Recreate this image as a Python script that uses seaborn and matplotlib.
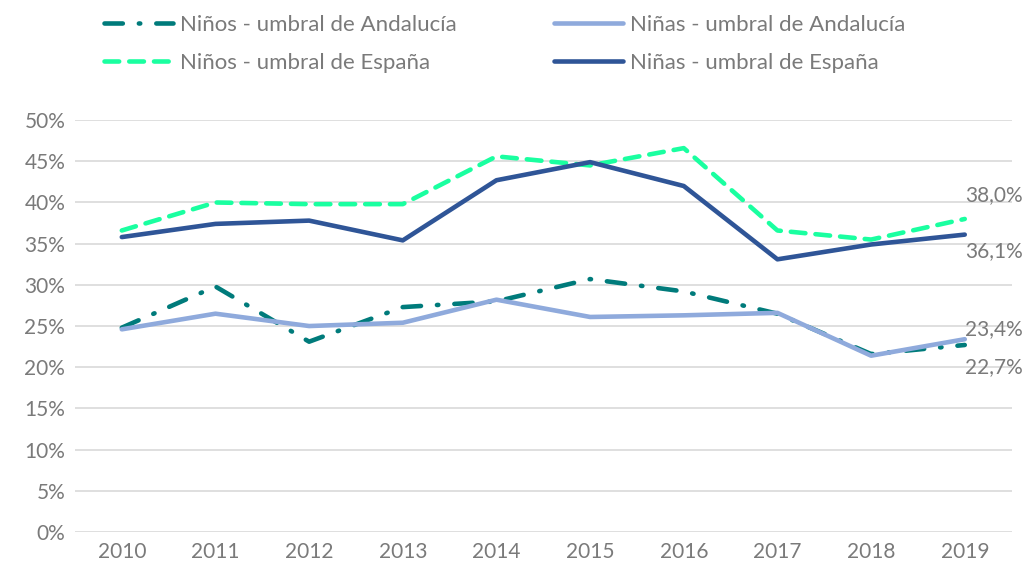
import pandas as pd
import matplotlib.pyplot as plt
import seaborn as sns
from matplotlib.ticker import PercentFormatter

# values (percent)
years = [2010, 2011, 2012, 2013, 2014, 2015, 2016, 2017, 2018, 2019]
ninos_and = [24.8, 29.8, 23.1, 27.3, 28.0, 30.7, 29.2, 26.5, 21.6, 22.7]
ninos_esp = [36.6, 40.0, 39.8, 39.8, 45.6, 44.5, 46.6, 36.6, 35.5, 38.0]
ninas_and = [24.6, 26.5, 25.0, 25.4, 28.2, 26.1, 26.3, 26.6, 21.4, 23.4]
ninas_esp = [35.8, 37.4, 37.8, 35.4, 42.7, 44.9, 42.0, 33.1, 34.9, 36.1]

labels = ["Niños - umbral de Andalucía", "Niños - umbral de España",
          "Niñas - umbral de Andalucía", "Niñas - umbral de España"]
series = [ninos_and, ninos_esp, ninas_and, ninas_esp]
colors = ["#007B7B", "#1AFFA0", "#8FAADC", "#2F5597"]
styles = [(0, (4, 3.5, 0.3, 3.5)), (0, (3.2, 2.2)), "-", "-"]

sns.set_style("white")
plt.rcParams["font.family"] = ["Lato", "DejaVu Sans"]
grey = "#7A7A7A"

fig = plt.figure(figsize=(10.27, 5.72), dpi=100)
ax = fig.add_axes([0.073, 0.070, 0.912, 0.720])

for lab, vals, col, ls in zip(labels, series, colors, styles):
    df = pd.DataFrame({"year": years, "value": vals})
    sns.lineplot(data=df, x="year", y="value", ax=ax, color=col, linewidth=3.3,
                 linestyle=ls, dash_capstyle="round", solid_capstyle="round",
                 label=lab)

ax.set_xlim(2009.5, 2019.5)
ax.set_ylim(0, 50)
ax.set_xticks(years)
ax.set_yticks(range(0, 51, 5))
ax.yaxis.set_major_formatter(PercentFormatter(decimals=0))
ax.grid(axis="y", color="#D9D9D9", linewidth=1.2)
ax.set_axisbelow(True)
for s in ax.spines.values():
    s.set_visible(False)
ax.set_xlabel("")
ax.set_ylabel("")
ax.tick_params(axis="both", labelsize=15, labelcolor=grey, length=0, pad=7)

# end labels
ends = [(ninos_esp[-1], 17), (ninas_esp[-1], -12), (ninas_and[-1], 7), (ninos_and[-1], -16)]
for v, dy in ends:
    ax.annotate(f"{v:.1f}%".replace(".", ","), (years[-1], v), xytext=(0, dy),
                textcoords="offset points", ha="left", va="center",
                fontsize=15, color=grey, annotation_clip=False)

ax.legend(ncol=2, loc="upper left", bbox_to_anchor=(0.082, 1.009),
          bbox_transform=fig.transFigure, frameon=False, fontsize=16,
          handlelength=3.1, handletextpad=0.3, columnspacing=4.4,
          labelspacing=0.8, labelcolor=grey)

fig.savefig("out.png", dpi=100)
